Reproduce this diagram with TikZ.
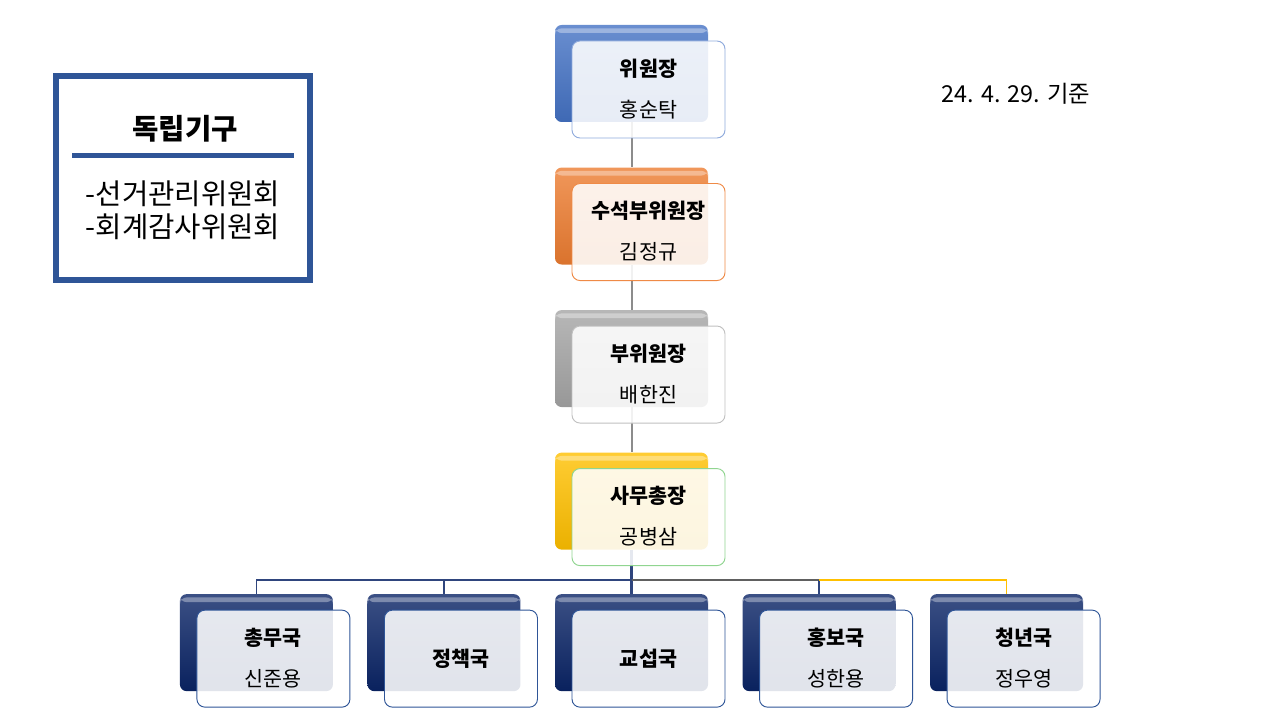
\documentclass[tikz,border=0pt]{standalone}
\usepackage{fontspec}
\setmainfont{Noto Sans CJK KR}
\usepackage{tikz}
\usetikzlibrary{positioning}
\usepackage{xcolor}

\definecolor{blueC}{HTML}{4472C4}
\definecolor{orangeC}{HTML}{ED7D31}
\definecolor{grayC}{HTML}{A5A5A5}
\definecolor{goldC}{HTML}{FFC000}
\definecolor{navyC}{HTML}{0A2466}
\definecolor{frameC}{HTML}{2F5597}

\begin{document}
\begin{tikzpicture}[
    x=0.75pt, y=-0.75pt,
    node distance=33.75pt and 25.5pt,
    backbox/.style={rounded corners=5pt, minimum width=114.75pt, minimum height=72.75pt, inner sep=0pt,
        top color=#1!80!white, middle color=#1, bottom color=#1!92!black, shading angle=0,
        path picture={\fill[white, opacity=0.35]
            ([yshift=-2.5pt]path picture bounding box.north west) rectangle
            ([yshift=-6pt]path picture bounding box.north east);}},
    frontbox/.style={draw=#1, line width=0.7pt, rounded corners=6pt, fill=white, fill opacity=0.88,
        minimum width=114.75pt, minimum height=72.75pt, inner sep=0pt},
    ttl/.style={font=\fontsize{15.5}{17}\selectfont\bfseries, inner sep=0pt},
    nm/.style={font=\fontsize{15.5}{17}\selectfont, inner sep=0pt},
    vline/.style={draw=grayC!85!black, line width=1.5pt},
    navyline/.style={draw=navyC!85!white, line width=1.2pt},
]
\useasboundingbox (0,0) rectangle (1280,720);

% ---- Back boxes ----
\node[backbox=blueC] at (631.5,73.5) (chairb) {};
\node[backbox=orangeC, below=of chairb] (svcb) {};
\node[backbox=grayC, below=of svcb] (vcb) {};
\node[backbox=goldC, below=of vcb] (sgb) {};

\node[backbox=navyC, below=33pt of sgb] (negb) {};
\node[backbox=navyC, left=of negb] (polb) {};
\node[backbox=navyC, left=of polb] (genb) {};
\node[backbox=navyC, right=of negb] (prb) {};
\node[backbox=navyC, right=of prb] (youthb) {};

% ---- Connectors ----
\coordinate (bus) at ([yshift=-22.5pt]sgb.south);
\draw[vline] (chairb.south) -- (svcb.north);
\draw[vline] (svcb.south) -- (vcb.north);
\draw[vline] (vcb.south) -- (sgb.north);
\draw[navyline, line width=2.2pt] (sgb.south) -- (negb.north);
\draw[navyline] (bus) -| (genb.north);
\draw[navyline] (bus) -| (polb.north);
\draw[draw=gray!75!black, line width=1.2pt] (bus) -- (bus -| prb.north);
\draw[navyline] (bus -| prb.north) -- (prb.north);
\draw[draw=goldC, line width=1.2pt] (bus -| prb.north) -| (youthb.north);

% ---- Front boxes ----
\node[frontbox=blueC!60!white] at ([xshift=12.75pt, yshift=-12pt]chairb.center) (chair) {};
\node[frontbox=orangeC!90!white] at ([xshift=12.75pt, yshift=-12pt]svcb.center) (svc) {};
\node[frontbox=grayC!70!white] at ([xshift=12.75pt, yshift=-12pt]vcb.center) (vc) {};
\node[frontbox=green!45!gray!60!white] at ([xshift=12.75pt, yshift=-12pt]sgb.center) (sg) {};
\node[frontbox=frameC] at ([xshift=12.75pt, yshift=-12pt]genb.center) (gen) {};
\node[frontbox=frameC] at ([xshift=12.75pt, yshift=-12pt]polb.center) (pol) {};
\node[frontbox=frameC] at ([xshift=12.75pt, yshift=-12pt]negb.center) (neg) {};
\node[frontbox=frameC] at ([xshift=12.75pt, yshift=-12pt]prb.center) (pr) {};
\node[frontbox=frameC] at ([xshift=12.75pt, yshift=-12pt]youthb.center) (youth) {};

% ---- Texts ----
\node[ttl] at ([yshift=15.75pt]chair.center) (chairt) {위원장};
\node[nm] at ([yshift=-15pt]chair.center) (chairn) {홍순탁};
\node[ttl] at ([yshift=15.75pt]svc.center) (svct) {수석부위원장};
\node[nm] at ([yshift=-15pt]svc.center) (svcn) {김정규};
\node[ttl] at ([yshift=15.75pt]vc.center) (vct) {부위원장};
\node[nm] at ([yshift=-15pt]vc.center) (vcn) {배한진};
\node[ttl] at ([yshift=15.75pt]sg.center) (sgt) {사무총장};
\node[nm] at ([yshift=-15pt]sg.center) (sgn) {공병삼};

\node[ttl] at ([yshift=15.75pt]gen.center) (gent) {총무국};
\node[nm] at ([yshift=-15pt]gen.center) (genn) {신준용};
\node[ttl] at (pol.center) (polt) {정책국};
\node[ttl] at (neg.center) (negt) {교섭국};
\node[ttl] at ([yshift=15.75pt]pr.center) (prt) {홍보국};
\node[nm] at ([yshift=-15pt]pr.center) (prn) {성한용};
\node[ttl] at ([yshift=15.75pt]youth.center) (youtht) {청년국};
\node[nm] at ([yshift=-15pt]youth.center) (youthn) {정우영};

% ---- Independent bodies ----
\node[draw=frameC, line width=4.5pt, minimum width=190.5pt, minimum height=153pt] at (183,178) (indep) {};
\node[font=\fontsize{21.5}{24}\selectfont\bfseries] at (185,129) (indept) {독립기구};
\draw[frameC, line width=3.75pt] (72,156) -- (294,156);
\node[font=\fontsize{21.5}{24.75}\selectfont, align=left] at (183,210) (indepl) {-선거관리위원회\\-회계감사위원회};

% ---- Date ----
\node[font=\fontsize{17.5}{20}\selectfont] at (1016,94) (date) {24. 4. 29. 기준};

\end{tikzpicture}
\end{document}
